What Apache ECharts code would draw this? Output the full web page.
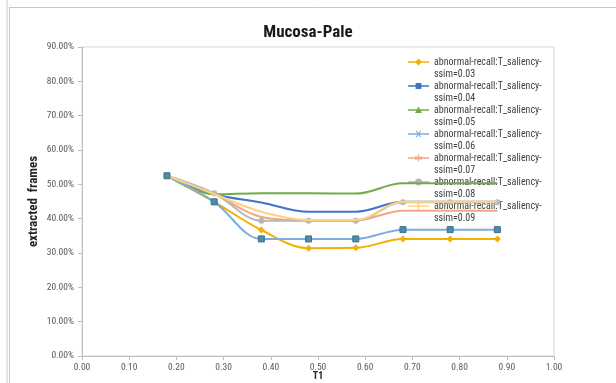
<!DOCTYPE html>
<html>
<head>
<meta charset="utf-8">
<script src="https://cdn.jsdelivr.net/npm/echarts@6/dist/echarts.min.js"></script>
<style>html,body{margin:0;padding:0;background:#fff;}#c{width:616px;height:383px;}</style>
</head>
<body>
<div id="c"></div>
<script>
var xValues = [0.18, 0.28, 0.38, 0.48, 0.58, 0.68, 0.78, 0.88];
var seriesNames = [
  'abnormal-recall:T_saliency-ssim=0.03',
  'abnormal-recall:T_saliency-ssim=0.04',
  'abnormal-recall:T_saliency-ssim=0.05',
  'abnormal-recall:T_saliency-ssim=0.06',
  'abnormal-recall:T_saliency-ssim=0.07',
  'abnormal-recall:T_saliency-ssim=0.08',
  'abnormal-recall:T_saliency-ssim=0.09'
];
var s003 = [52.5, 44.9, 36.7, 31.4, 31.5, 34.1, 34.1, 34.1];
var s004 = [52.5, 47.2, 44.7, 42.0, 42.0, 44.9, 44.9, 44.9];
var s005 = [52.5, 47.1, 47.4, 47.4, 47.3, 50.3, 50.3, 50.3];
var s006 = [52.5, 44.9, 34.1, 34.1, 34.1, 36.8, 36.8, 36.8];
var s007 = [52.5, 47.2, 40.5, 39.5, 39.5, 42.3, 42.3, 42.3];
var s008 = [52.5, 47.4, 39.4, 39.4, 39.4, 44.8, 44.8, 44.8];
var s009 = [52.5, 47.2, 42.0, 39.6, 39.6, 44.9, 44.9, 44.9];
var yTicks = [0, 10, 20, 30, 40, 50, 60, 70, 80, 90];
var xTicks = [0, 0.1, 0.2, 0.3, 0.4, 0.5, 0.6, 0.7, 0.8, 0.9, 1.0];

var allSeries = [s003, s004, s005, s006, s007, s008, s009];
var colors = ['#F2B000', '#4472C4', '#70AD47', '#7FAEDC', '#F4A582', '#B7B7B7', '#FFD27F'];
var symbols = ['diamond', 'rect', 'triangle', 'rect', 'circle', 'circle', 'circle'];
var showSym = [true, false, false, false, false, true, false];

// legend icons: a line with its marker on the upper text line
var BOX = 'M0,0L0.01,0L0,0.01Z M21,24L20.99,24L21,23.99Z ';
var LINE = 'M0,5.3L21,5.3L21,6.7L0,6.7Z ';
var iconMarks = [
  'M10.5,2.6L13.9,6L10.5,9.4L7.1,6Z',
  'M7.6,3.1L13.4,3.1L13.4,8.9L7.6,8.9Z',
  'M10.5,2.4L14,9L7,9Z',
  'M7.6,2.8L8.8,2.8L10.5,4.9L12.2,2.8L13.4,2.8L11.2,6L13.4,9.2L12.2,9.2L10.5,7.1L8.8,9.2L7.6,9.2L9.8,6Z',
  'M9.9,2.6L11.1,2.6L11.1,5.2L13.5,4.1L14,5.1L11.6,6.1L14,7.1L13.5,8.1L11.1,7L11.1,9.6L9.9,9.6L9.9,7L7.5,8.1L7,7.1L9.4,6.1L7,5.1L7.5,4.1L9.9,5.2Z',
  'M7,6A3.5,3.5 0 1 1 14,6A3.5,3.5 0 1 1 7,6Z',
  'M9.8,2.6L11.2,2.6L11.2,5.3L14,5.3L14,6.7L11.2,6.7L11.2,9.4L9.8,9.4L9.8,6.7L7,6.7L7,5.3L9.8,5.3Z'
];

function pairs(arr) { return xValues.map(function (x, i) { return [x, arr[i]]; }); }

var FONT = '"Liberation Sans Narrow", "Roboto Condensed", "Liberation Sans", sans-serif';

var series = allSeries.map(function (arr, k) {
  return {
    name: seriesNames[k],
    type: 'line',
    smooth: 0.35,
    data: pairs(arr),
    symbol: symbols[k],
    symbolSize: k === 0 ? 7 : 6,
    showSymbol: showSym[k],
    lineStyle: { color: colors[k], width: 2 },
    itemStyle: { color: colors[k] },
    z: 2 + k
  };
});
// square markers drawn on the 0.06 curve as in the picture
series.push({
  name: 'markers-0.06',
  type: 'line',
  data: pairs(s006),
  lineStyle: { opacity: 0 },
  symbol: 'rect',
  symbolSize: 6,
  itemStyle: { color: '#4E8DA8', borderColor: '#3F6F8F', borderWidth: 1 },
  z: 20
});

var legendData = seriesNames.map(function (n, k) {
  return { name: n, icon: 'path://' + BOX + LINE + iconMarks[k] };
});

var chart = echarts.init(document.getElementById('c'), null, { renderer: 'canvas' });
chart.setOption({
  animation: false,
  color: colors,
  title: {
    text: 'Mucosa-Pale',
    left: 'center',
    top: 19,
    textStyle: { fontFamily: FONT, fontSize: 17, fontWeight: 'bold', color: '#1a1a1a' }
  },
  grid: { left: 82, right: 62, top: 47, bottom: 27, outerBoundsMode: 'none', containLabel: false, show: true, borderColor: '#C9DAEA', borderWidth: 1 },
  legend: {
    data: legendData,
    orient: 'vertical',
    left: 408,
    top: 56,
    padding: 0,
    itemWidth: 21,
    itemHeight: 24,
    itemGap: 0,
    symbolKeepAspect: false,
    itemStyle: { borderWidth: 0 },
    formatter: function (n) { return n.replace('-ssim', '-\nssim'); },
    textStyle: { fontFamily: FONT, fontSize: 10, color: '#404040', lineHeight: 12 }
  },
  xAxis: {
    type: 'value',
    min: 0, max: 1, interval: 0.1,
    name: 'T1',
    nameLocation: 'middle',
    nameGap: 15,
    nameMoveOverlap: false,
    nameTextStyle: { fontFamily: FONT, fontSize: 10, fontWeight: 'bold', color: '#262626' },
    splitLine: { show: false },
    axisLine: { show: true, lineStyle: { color: '#BFBFBF' } },
    axisTick: { show: true, length: 4, lineStyle: { color: '#BFBFBF' } },
    axisLabel: {
      fontFamily: FONT, fontSize: 9.5, color: '#595959', margin: 7,
      formatter: function (v) { return v.toFixed(2); }
    }
  },
  yAxis: {
    type: 'value',
    min: 0, max: 90, interval: 10,
    name: 'extracted  frames',
    nameLocation: 'middle',
    nameGap: 42,
    nameMoveOverlap: false,
    nameTextStyle: { fontFamily: FONT, fontSize: 13, fontWeight: 'bold', color: '#262626' },
    splitLine: { show: false },
    axisLine: { show: true, lineStyle: { color: '#BFBFBF' } },
    axisTick: { show: true, length: 4, lineStyle: { color: '#BFBFBF' } },
    axisLabel: {
      fontFamily: FONT, fontSize: 9.5, color: '#595959', margin: 8,
      formatter: function (v) { return v.toFixed(2) + '%'; }
    }
  },
  graphic: [
    { type: 'line', shape: { x1: 7, y1: 0, x2: 7, y2: 383 }, style: { stroke: '#C8C8C8', lineWidth: 1 } },
    { type: 'line', shape: { x1: 9.5, y1: 7, x2: 9.5, y2: 383 }, style: { stroke: '#C8C8C8', lineWidth: 1 } },
    { type: 'line', shape: { x1: 9.5, y1: 7.5, x2: 616, y2: 7.5 }, style: { stroke: '#C8C8C8', lineWidth: 1 } }
  ],
  series: series
});
</script>
</body>
</html>
